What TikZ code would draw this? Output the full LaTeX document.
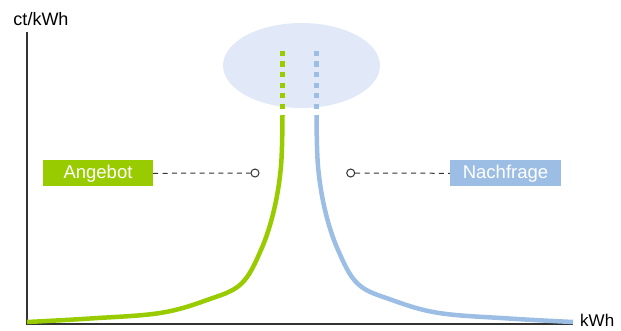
\documentclass[tikz,border=0pt]{standalone}
\usepackage{fontspec}
\setmainfont{Liberation Sans}
\usepackage{tikz}
\usetikzlibrary{positioning, shapes}
\usepackage{xcolor}

\definecolor{angebotgreen}{HTML}{99CC00}
\definecolor{nachfrageblue}{HTML}{9DBEE4}
\definecolor{cloudblue}{HTML}{E1E9F8}
\definecolor{axisgray}{HTML}{333333}

\tikzset{
    labelbox/.style={minimum width=110pt, minimum height=26pt, inner sep=0pt,
        text=white, font=\fontsize{18.5}{20}\selectfont},
    pin/.style={circle, draw=axisgray, fill=white, line width=1pt,
        minimum size=8pt, inner sep=0pt},
    axistext/.style={font=\fontsize{18}{20}\selectfont, text=black, inner sep=0pt},
    curve/.style={line width=4.5pt},
    dots/.style={line width=5pt, dash pattern=on 5.3pt off 5.3pt}
}

\begin{document}
\begin{tikzpicture}[x=1pt, y=-1pt]
    \useasboundingbox (0,0) rectangle (621,330);

    % Price cloud
    \fill[cloudblue] (301.5,65.5) ellipse (78.5 and 42.5);

    % Axes
    \coordinate (origin) at (27,324);
    \coordinate (ytop) at (27,32);
    \coordinate (xend) at (573,324);
    \draw[axisgray, line width=1.5pt] (ytop) -- (origin) -- (xend);
    \node[axistext] (ylabel) at (41,19) {ct/kWh};
    \node[axistext, anchor=west, font=\fontsize{17}{19}\selectfont] (xlabel) at (580,320) {kWh};

    % Supply curve
    \draw[angebotgreen, curve] plot[smooth, tension=0.6] coordinates {
        (282.5,115) (281,166) (274,210) (261,250) (241,284) (207,300)
        (160,313) (90,318.5) (27,322)};
    \draw[angebotgreen, dots] (282.5,50.7) -- (282.5,111);

    % Demand curve
    \draw[nachfrageblue, curve] plot[smooth, tension=0.6] coordinates {
        (316.5,115) (318,166) (325,210) (338,250) (358,284) (392,300)
        (439,313) (509,318.5) (573,322)};
    \draw[nachfrageblue, dots] (316.5,50.7) -- (316.5,111);

    % Labels
    \node[labelbox, fill=angebotgreen] (angebot) at (98,173.3) {Angebot};
    \node[pin] (angebotpin) at (255,173) {};
    \draw[dashed, axisgray, line width=1pt, dash pattern=on 5pt off 4.3pt]
        (angebot.east) -- (angebotpin.west);

    \node[labelbox, fill=nachfrageblue, minimum width=111pt] (nachfrage) at (505.5,173.3) {Nachfrage};
    \node[pin] (nachfragepin) at (350.7,173) {};
    \draw[dashed, axisgray, line width=1pt, dash pattern=on 5pt off 4.3pt]
        (nachfragepin.east) -- (nachfrage.west);

\end{tikzpicture}
\end{document}
